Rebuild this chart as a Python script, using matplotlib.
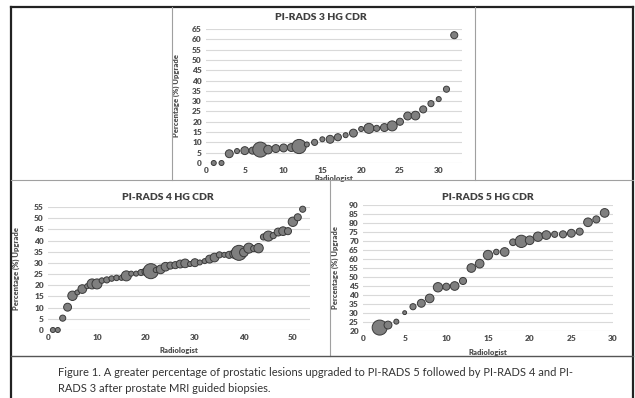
import numpy as np
import matplotlib
matplotlib.use("Agg")
import matplotlib.pyplot as plt
from matplotlib.lines import Line2D

plt.rcParams['font.family'] = ['Lato', 'DejaVu Sans']

# PI-RADS 3
r3_x = list(range(1, 33))
r3_y = [0, 0, 4.5, 5.8, 6, 6, 6.5, 6.5, 7, 7.3, 7.5, 8, 9, 10, 11.5, 11.5,
        12.5, 13.5, 14.5, 16.5, 16.8, 16.8, 17.2, 18, 20, 22.8, 23, 26, 28.8,
        31, 35.8, 62]
r3_n = [1, 1, 2.5, 1, 2.5, 2, 9, 3, 2.5, 2.5, 2.5, 8, 1, 1.5, 1, 2.5,
        2, 1, 2.5, 1, 4, 1.5, 2.5, 4, 2, 2.5, 3, 2, 1.5, 1, 1.5, 2]

# PI-RADS 4
r4_x = list(range(1, 53))
r4_y = [0, 0, 5.3, 10.2, 15.3, 16.8, 18.3, 19.6, 20.6, 20.6, 22.1, 22.4, 23,
        23.3, 23.3, 24.2, 25.2, 25.2, 25.7, 26.1, 26.3, 26.8, 27.1, 28.3, 28.8,
        29, 29.5, 29.8, 29.5, 30.1, 30.2, 30.8, 31.7, 32.4, 33.6, 33.6, 33.6,
        34, 34.5, 34.7, 36.6, 36.4, 36.6, 41.6, 42, 42.2, 43.8, 44.2, 44.2,
        48.4, 50.4, 54]
r4_n = [1, 1, 1.5, 2.5, 3.5, 1, 3, 1, 4, 4, 1.2, 1.5, 1.2, 1.2, 1, 4, 1, 1,
        1.5, 2.5, 9, 1, 3, 3, 2, 2, 2.5, 3, 1, 2.5, 1, 1, 2.5, 3, 1.5, 1, 2,
        3, 9, 3, 4, 1.5, 3.5, 1.5, 4, 1.5, 2.5, 3, 2, 3.5, 2, 1.5]

# PI-RADS 5
r5_x = list(range(2, 30))
r5_y = [21.9, 23.3, 25.2, 30.2, 33.5, 35.4, 38.1, 44.3, 44.6, 45, 47.8, 55,
        57.4, 62.2, 63.9, 63.9, 69.3, 69.8, 70.4, 72.4, 73.3, 73.7, 73.7,
        74.3, 75.2, 80.4, 82, 85.6]
r5_n = [9, 2.5, 1, 0.6, 1.5, 2.5, 3, 3.5, 2, 3, 2, 3, 3, 3.5, 1.2, 3, 1.8,
        6, 3, 3.5, 3, 1.5, 2, 2.5, 2, 3, 2, 3]

W, H = 635, 398
fig = plt.figure(figsize=(W / 100, H / 100), dpi=100)


def fx(px):
    return px / W


def fy(py):
    return 1 - py / H


def bubble(box, x, y, n, xlim, xticks, ylim, yticks, title, tpos, ylab_x, xlab_y):
    l, t, r, b = box
    ax = fig.add_axes([fx(l), fy(b), fx(r) - fx(l), fy(t) - fy(b)])
    ax.scatter(x, y, s=np.array(n) * 13, c='#7f7f7f', edgecolors='#3a3a3a',
               linewidths=0.7, zorder=3, clip_on=False)
    ax.set_xlim(*xlim)
    ax.set_ylim(*ylim)
    ax.set_xticks(xticks)
    ax.set_yticks(yticks)
    for s in ax.spines.values():
        s.set_visible(False)
    ax.grid(axis='y', color='#d9d9d9', lw=0.8, zorder=0)
    ax.tick_params(length=0, labelsize=6, labelcolor='#505050', pad=3)
    for lab in ax.get_xticklabels() + ax.get_yticklabels():
        lab.set_fontweight('heavy')
    ax.set_ylabel('Percentage (%) Upgrade', fontsize=5.5, color='#505050',
                  fontweight='heavy')
    ax.yaxis.set_label_coords(ylab_x, 0.5)
    ax.set_xlabel('Radiologist', fontsize=5.5, color='#505050', fontweight='heavy')
    ax.xaxis.set_label_coords(0.5, xlab_y)
    fig.text(fx(tpos[0]), fy(tpos[1]), title, ha='center', va='center',
             fontsize=7.5, fontweight='heavy', color='#404040')
    return ax


bubble((206, 29, 462, 163), r3_x, r3_y, r3_n, (0, 33), range(0, 31, 5),
       (0, 65), range(0, 66, 5), 'PI-RADS 3 HG CDR', (321, 18), -0.10, -0.09)
bubble((48, 207, 310, 330), r4_x, r4_y, r4_n, (0, 53.5), range(0, 51, 10),
       (0, 55), range(0, 56, 5), 'PI-RADS 4 HG CDR', (168, 197), -0.107, -0.14)
bubble((363, 205, 613, 331), r5_x, r5_y, r5_n, (0, 30), range(0, 31, 5),
       (20, 90), range(20, 91, 5), 'PI-RADS 5 HG CDR', (488, 197), -0.096, -0.14)

# panel frames
dark = '#222222'
grey = '#a0a0a0'
frame = [
    ((11, 633), (7, 7), dark, 1.6),
    ((11, 11), (7, 398), dark, 1.6),
    ((633, 633), (7, 398), dark, 1.6),
    ((172, 172), (7, 180), grey, 0.8),
    ((475, 475), (7, 180), grey, 0.8),
    ((11, 633), (180, 180), grey, 0.8),
    ((330, 330), (180, 356), grey, 0.8),
    ((11, 633), (356, 356), '#555555', 1.0),
]
for xs, ys, col, lw in frame:
    fig.add_artist(Line2D([fx(v) for v in xs], [fy(v) for v in ys],
                          color=col, lw=lw))

fig.text(fx(58), fy(373), 'Figure 1. A greater percentage of prostatic lesions '
         'upgraded to PI-RADS 5 followed by PI-RADS 4 and PI-',
         fontsize=8, color='#333333', va='center')
fig.text(fx(58), fy(388), 'RADS 3 after prostate MRI guided biopsies.',
         fontsize=8, color='#333333', va='center')

fig.savefig('out.png', dpi=100)
